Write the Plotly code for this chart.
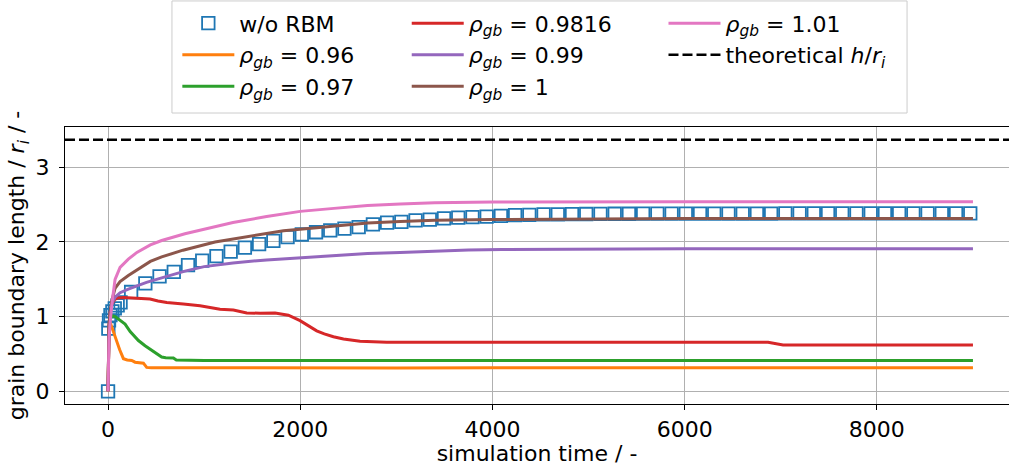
import plotly.graph_objects as go

# ---------------- data ----------------
t_ref = [0, 3, 10, 25, 45, 70, 100, 130,
         240, 388, 536, 684, 832, 980, 1128, 1276, 1424, 1572, 1720, 1868, 2016, 2164,
         2312, 2460, 2608, 2756, 2904, 3052, 3200, 3348, 3496, 3644, 3792, 3940, 4088,
         4236, 4384, 4532, 4680, 4828, 4976, 5124, 5272, 5420, 5568, 5716, 5864, 6012,
         6160, 6308, 6456, 6604, 6752, 6900, 7048, 7196, 7344, 7492, 7640, 7788, 7936,
         8084, 8232, 8380, 8528, 8676, 8824, 8972]
v_ref = [0.0, 0.84, 0.95, 1.02, 1.07, 1.11, 1.15, 1.19,
         1.33, 1.445, 1.54, 1.60, 1.69, 1.75, 1.81, 1.87, 1.925, 1.97, 2.015, 2.065, 2.10, 2.13,
         2.155, 2.18, 2.20, 2.235, 2.26, 2.27, 2.29, 2.30, 2.315, 2.325, 2.333, 2.34, 2.35,
         2.36, 2.363, 2.37, 2.37, 2.373, 2.375, 2.377, 2.378, 2.378, 2.379, 2.38, 2.38, 2.38,
         2.38, 2.38, 2.381, 2.381, 2.381, 2.381, 2.382, 2.382, 2.382, 2.382, 2.382, 2.382, 2.383,
         2.383, 2.383, 2.383, 2.383, 2.383, 2.383, 2.383]

t_096 = [0, 4, 10, 20, 38, 60, 90, 120, 160, 200, 246, 281, 368, 402, 450, 700, 1000,
         2000, 3000, 4000, 5000, 6000, 7000, 8000, 9000]
v_096 = [0.0, 0.55, 0.85, 0.93, 0.86, 0.78, 0.68, 0.56, 0.437, 0.42, 0.413, 0.39, 0.377,
         0.32, 0.315, 0.314, 0.313, 0.313, 0.313, 0.314, 0.314, 0.314, 0.314, 0.314, 0.314]

t_097 = [0, 4, 10, 20, 50, 73, 120, 177, 230, 281, 316, 385, 430, 471, 520, 558, 600,
         680, 710, 800, 1000, 2000, 3000, 4000, 5000, 6000, 7000, 8000, 9000]
v_097 = [0.0, 0.55, 0.85, 0.98, 1.01, 1.0, 0.96, 0.9, 0.8, 0.72, 0.68, 0.61, 0.57, 0.53,
         0.49, 0.46, 0.45, 0.445, 0.42, 0.415, 0.414, 0.413, 0.413, 0.413, 0.413, 0.413,
         0.413, 0.413, 0.413]

t_09816 = [0, 4, 10, 20, 40, 70, 100, 160, 300, 437, 520, 611, 783, 957, 1165, 1304, 1443,
           1582, 1738, 1876, 1998, 2100, 2171, 2250, 2345, 2450, 2622, 2900, 3500, 4000,
           5000, 6000, 6868, 7024, 8000, 9000]
v_09816 = [0.0, 0.55, 0.88, 1.05, 1.17, 1.23, 1.25, 1.257, 1.25, 1.235, 1.21, 1.19, 1.17,
           1.147, 1.10, 1.09, 1.05, 1.045, 1.05, 1.02, 0.947, 0.87, 0.81, 0.77, 0.73, 0.70,
           0.67, 0.657, 0.657, 0.657, 0.657, 0.657, 0.657, 0.62, 0.62, 0.62]

t_099 = [0, 4, 10, 20, 40, 73, 125, 211, 400, 558, 800, 1000, 1300, 1650, 2000, 2350,
         2700, 3040, 3400, 3750, 4100, 5000, 6000, 7000, 8000, 9000]
v_099 = [0.0, 0.55, 0.88, 1.05, 1.18, 1.26, 1.32, 1.37, 1.46, 1.52, 1.61, 1.67, 1.72,
         1.76, 1.79, 1.815, 1.845, 1.86, 1.88, 1.893, 1.90, 1.907, 1.91, 1.91, 1.91, 1.91]

t_100 = [0, 4, 10, 20, 40, 73, 125, 211, 440, 558, 780, 1113, 1480, 1825, 2170, 2520,
         2700, 3040, 3400, 4000, 5000, 6000, 7000, 8000, 9000]
v_100 = [0.0, 0.55, 0.88, 1.05, 1.22, 1.38, 1.47, 1.55, 1.74, 1.80, 1.89, 2.0, 2.08,
         2.15, 2.19, 2.235, 2.255, 2.275, 2.29, 2.30, 2.31, 2.313, 2.315, 2.315, 2.315]

t_101 = [0, 4, 10, 20, 40, 73, 125, 211, 300, 440, 558, 800, 960, 1113, 1300, 1650, 2000,
         2350, 2700, 3040, 3400, 4000, 5000, 6000, 7000, 8000, 9000]
v_101 = [0.0, 0.45, 0.7, 0.9, 1.17, 1.5, 1.66, 1.77, 1.86, 1.96, 2.02, 2.11, 2.16, 2.21,
         2.26, 2.34, 2.41, 2.45, 2.49, 2.51, 2.525, 2.535, 2.54, 2.54, 2.54, 2.54, 2.54]

h_over_ri = 3.37

x_ticks = [0, 2000, 4000, 6000, 8000]
y_ticks = [0, 1, 2, 3]
x_range = [-448, 9375]
y_range = [-0.17, 3.54]

# ---------------- figure ----------------
FONT = "DejaVu Sans"
FS = 22
rho = "<i>ρ</i><sub><i>gb</i></sub>"

fig = go.Figure()

fig.add_trace(go.Scatter(
    x=t_ref, y=v_ref, mode="markers", name="w/o RBM",
    marker=dict(symbol="square-open", size=12.5, color="#1f77b4",
                line=dict(width=1.8, color="#1f77b4")),
    legend="legend", legendgroup="a"))

series = [
    (t_096, v_096, "0.96", "#ff7f0e", "legend", "b"),
    (t_097, v_097, "0.97", "#2ca02c", "legend", "c"),
    (t_09816, v_09816, "0.9816", "#d62728", "legend2", "d"),
    (t_099, v_099, "0.99", "#9467bd", "legend2", "e"),
    (t_100, v_100, "1", "#8c564b", "legend2", "f"),
    (t_101, v_101, "1.01", "#e377c2", "legend3", "g"),
]
for tx, vy, lab, col, lg, grp in series:
    fig.add_trace(go.Scatter(
        x=tx, y=vy, mode="lines", name=f"{rho} = {lab}",
        line=dict(color=col, width=3), legend=lg, legendgroup=grp))

fig.add_trace(go.Scatter(
    x=x_range, y=[h_over_ri, h_over_ri], mode="lines",
    name="theoretical <i>h</i>/<i>r</i><sub><i>i</i></sub>",
    line=dict(color="black", width=2.5, dash="10px,4px"),
    legend="legend3", legendgroup="h"))

leg_common = dict(
    yanchor="top", xanchor="left", y=1.45,
    bgcolor="rgba(0,0,0,0)", borderwidth=0,
    font=dict(family=FONT, size=FS, color="black"),
    tracegroupgap=4, orientation="v", traceorder="normal", itemwidth=52,
)

fig.update_layout(
    width=1009, height=475, autosize=False,
    margin=dict(l=65, r=0, t=127, b=71, autoexpand=False),
    plot_bgcolor="white", paper_bgcolor="white",
    font=dict(family=FONT, size=FS, color="black"),
    showlegend=True,
    legend=dict(x=0.119, **leg_common),
    legend2=dict(x=0.362, **leg_common),
    legend3=dict(x=0.634, **leg_common),
    shapes=[dict(
        type="rect", xref="paper", yref="paper",
        x0=0.1133, x1=0.892, y0=1.0505, y1=1.455,
        line=dict(color="#cccccc", width=1), fillcolor="rgba(255,255,255,0.8)",
        layer="below")],
)

fig.update_xaxes(
    range=x_range, tickvals=x_ticks, ticktext=[str(v) for v in x_ticks],
    showgrid=True, gridcolor="#b0b0b0", gridwidth=1,
    showline=True, linecolor="black", linewidth=1.2, mirror=True,
    ticks="outside", ticklen=5, tickwidth=1.2, tickcolor="black",
    zeroline=False, automargin=False,
    title=dict(text="simulation time / -", font=dict(family=FONT, size=FS), standoff=2),
    tickfont=dict(family=FONT, size=FS),
)
fig.update_yaxes(
    range=y_range, tickvals=y_ticks, ticktext=[str(v) for v in y_ticks],
    showgrid=True, gridcolor="#b0b0b0", gridwidth=1,
    showline=True, linecolor="black", linewidth=1.2, mirror=False,
    ticks="outside", ticklen=5, tickwidth=1.2, tickcolor="black",
    zeroline=False, automargin=False, ticklabelstandoff=5,
    title=dict(text="grain boundary length / <i>r</i><sub><i>i</i></sub> / -",
               font=dict(family=FONT, size=FS), standoff=4),
    tickfont=dict(family=FONT, size=FS),
)

fig.write_html("out.html", config={"displayModeBar": False},
               post_script="document.body.style.margin='0';")
